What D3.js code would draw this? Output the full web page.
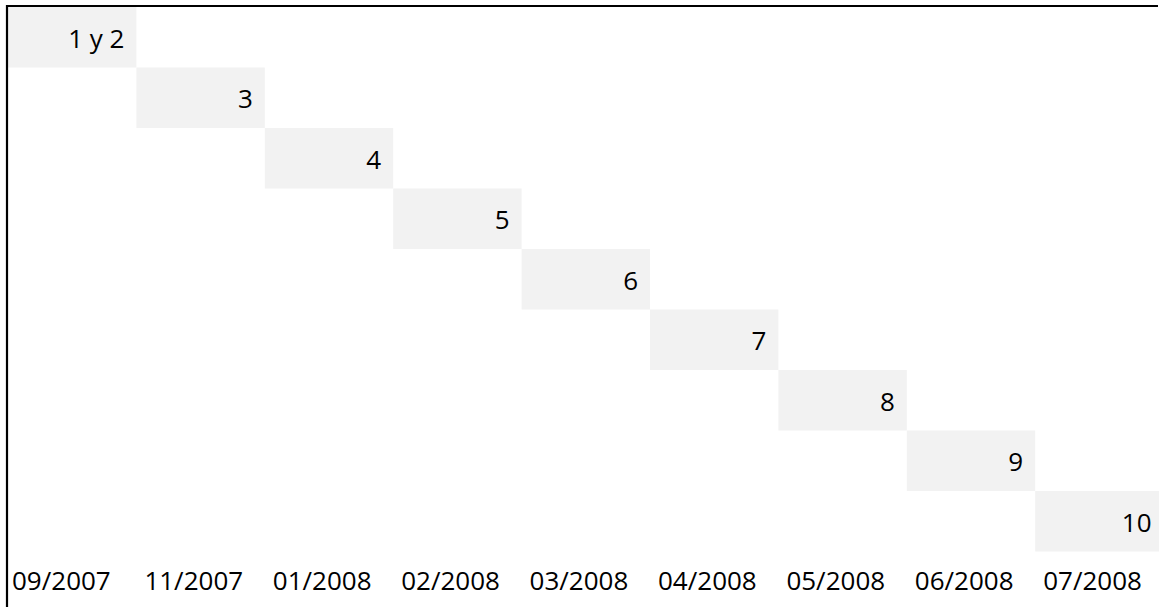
<!DOCTYPE html>
<html>
<head>
<meta charset="utf-8">
<script src="https://cdn.jsdelivr.net/npm/d3@7"></script>
<style>
  body { margin: 0; background: #fff; }
  svg { display: block; }
  .cellText { font-family: "Open Sans", sans-serif; font-size: 26px; fill: #000; }
</style>
</head>
<body>
<div id="chart"></div>
<script>
// Task labels, one per row (phase numbers)
var tasks = ["1 y 2", "3", "4", "5", "6", "7", "8", "9", "10"];
// Month column headers
var months = ["09/2007", "11/2007", "01/2008", "02/2008", "03/2008", "04/2008", "05/2008", "06/2008", "07/2008"];
// Which month each task sits in
var taskMonth = ["09/2007", "11/2007", "01/2008", "02/2008", "03/2008", "04/2008", "05/2008", "06/2008", "07/2008"];

var svgWidth = 1159;
var svgHeight = 607;

var grid = { left: 8, top: 7, colW: 128.4, rowH: 60.5 };

var svg = d3.select("#chart")
    .append("svg")
    .attr("width", svgWidth)
    .attr("height", svgHeight);

var xScale = d3.scaleBand()
    .domain(months)
    .range([grid.left, grid.left + grid.colW * months.length]);

var yScale = d3.scaleBand()
    .domain(tasks)
    .range([grid.top, grid.top + grid.rowH * tasks.length]);

var rows = tasks.map(function(t, i) {
    return { task: t, month: taskMonth[i] };
});

// shaded cells
svg.append("g").selectAll("rect")
    .data(rows)
    .enter()
    .append("rect")
    .attr("x", d => xScale(d.month))
    .attr("y", d => yScale(d.task))
    .attr("width", xScale.bandwidth())
    .attr("height", yScale.bandwidth())
    .attr("fill", "#f2f2f2");

// task numbers, right aligned in the cell
svg.append("g").selectAll("text")
    .data(rows)
    .enter()
    .append("text")
    .attr("class", "cellText")
    .attr("x", d => xScale(d.month) + xScale.bandwidth() - 12)
    .attr("y", d => yScale(d.task) + yScale.bandwidth() / 2)
    .attr("dy", "0.4em")
    .attr("text-anchor", "end")
    .text(d => d.task);

// month labels along the bottom
var labelY = 590;
svg.append("g").selectAll("text")
    .data(months)
    .enter()
    .append("text")
    .attr("class", "cellText")
    .attr("x", (d, i) => xScale(d) + (i === 0 ? 4 : 8))
    .attr("y", labelY)
    .text(d => d);

// border: top and left only
svg.append("path")
    .attr("d", "M7," + svgHeight + " V6 H" + (svgWidth - 1))
    .attr("fill", "none")
    .attr("stroke", "#000")
    .attr("stroke-width", 2.2);
</script>
</body>
</html>
